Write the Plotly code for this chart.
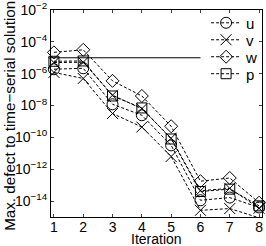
import plotly.graph_objects as go

iterations = [1, 2, 3, 4, 5, 6, 7, 8]
u_exp = [-5.72, -5.66, -7.92, -8.61, -10.50, -13.95, -13.78, -14.40]
v_exp = [-5.92, -6.30, -8.50, -9.35, -11.20, -14.58, -14.47, -15.05]
w_exp = [-4.66, -4.50, -6.45, -7.40, -9.30, -12.75, -12.55, -14.10]
p_exp = [-5.22, -5.20, -7.40, -8.15, -10.10, -13.40, -13.25, -14.30]
v2_exp = [-5.30, -5.28, -7.35, -8.20, -10.05, -13.35, -13.20, -14.45]
tol_value = 1e-5
tol_x = [0, 6]
ytick_exps = [-2, -4, -6, -8, -10, -12, -14]

FONT = "Liberation Sans, Arial, sans-serif"
DASH = "3px,2px"

def vals(exps):
    return [10 ** e for e in exps]

fig = go.Figure()

series = [
    ("u", u_exp, "circle-open", 11, "legend", 0.937),
    ("v", v_exp, "x-thin-open", 11, "legend2", 0.855),
    ("w", w_exp, "diamond-open", 10, "legend3", 0.773),
    ("p", p_exp, "square-open", 10, "legend4", 0.691),
    ("v", v2_exp, "x-thin-open", 11, None, None),
]
legends = {}
for name, ex, sym, size, leg, ly in series:
    kw = {}
    if leg is not None:
        kw["legend"] = leg
        legends[leg] = ly
    fig.add_trace(go.Scatter(
        x=iterations, y=vals(ex), mode="lines+markers", name=name,
        showlegend=leg is not None, cliponaxis=False,
        line=dict(color="black", width=1, dash=DASH),
        marker=dict(symbol=sym, size=size, color="black",
                    line=dict(color="black", width=1)),
        **kw,
    ))

fig.add_trace(go.Scatter(
    x=tol_x, y=[tol_value, tol_value], mode="lines", showlegend=False,
    line=dict(color="black", width=1),
))

legend_layout = {}
for leg, ly in legends.items():
    legend_layout[leg] = dict(
        x=0.735, y=ly, xanchor="left", yanchor="middle",
        bgcolor="rgba(0,0,0,0)", itemwidth=30, font=dict(size=15),
    )

fig.update_layout(
    width=266, height=246,
    margin=dict(l=51, r=4, t=10, b=29, autoexpand=False),
    paper_bgcolor="white", plot_bgcolor="white",
    font=dict(family=FONT, size=14, color="black"),
    showlegend=True,
    annotations=[
        dict(text="Iteration", x=0.5, y=-0.106, xref="paper", yref="paper",
             xanchor="center", yanchor="middle", showarrow=False,
             font=dict(size=14)),
        dict(text="Max. defect to time\u2212serial solution", textangle=-90,
             x=-0.195, y=0.488, xref="paper", yref="paper",
             xanchor="center", yanchor="middle", showarrow=False,
             font=dict(size=15.2)),
    ],
    **legend_layout,
)
fig.update_xaxes(
    range=[0.9, 8.1], tickvals=iterations, ticks="inside", ticklen=3,
    showline=True, linecolor="black", linewidth=1, mirror="ticks",
    showgrid=False, zeroline=False, ticklabelstandoff=-3,
    tickfont=dict(size=14),
)
fig.update_yaxes(
    type="log", range=[-15, -2],
    tickvals=[10 ** e for e in ytick_exps],
    ticktext=["10<sup>\u2212%d</sup>" % (-e) for e in ytick_exps],
    ticks="inside", ticklen=3,
    showline=True, linecolor="black", linewidth=1, mirror="ticks",
    showgrid=False, zeroline=False,
    tickfont=dict(size=14),
)

fig.write_html("out.html", config={"displayModeBar": False},
               post_script="document.body.style.margin='0';")
